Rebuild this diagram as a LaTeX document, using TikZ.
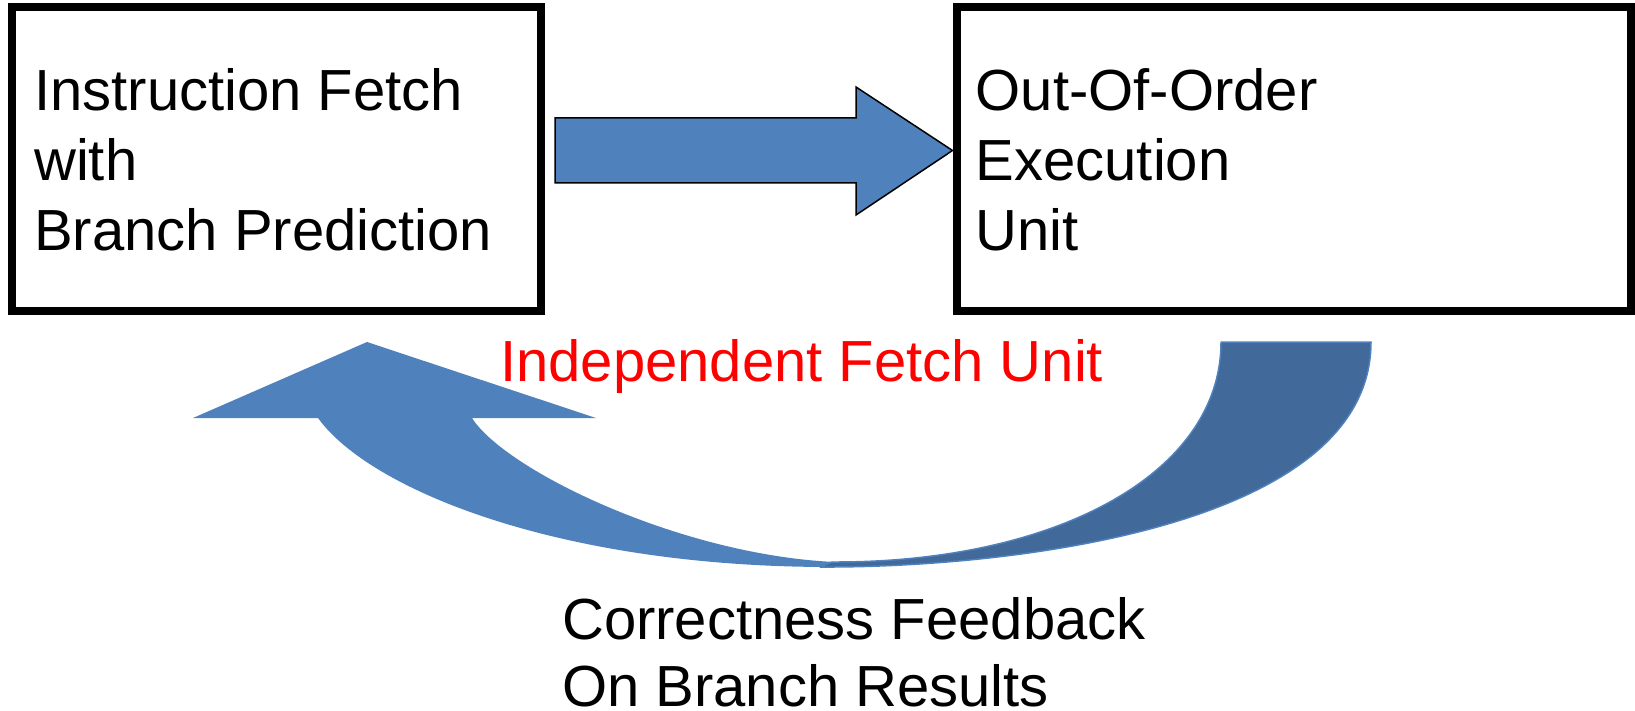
\documentclass[tikz,border=0pt]{standalone}
\usepackage{fontspec}
\setmainfont{Liberation Sans}
\definecolor{arrowblue}{HTML}{4F81BD}
\definecolor{arrowdark}{HTML}{41699A}

\begin{document}
\begin{tikzpicture}[x=1pt,y=-1pt,
  box/.style={draw=black, line width=8pt, inner sep=0pt, minimum height=303.5pt},
  lbl/.style={anchor=base west, inner sep=0pt, font=\fontsize{58}{70}\selectfont},
  blockarrow/.style={fill=arrowblue, draw=black, line width=1.5pt, line join=miter},
]
\useasboundingbox (0,0) rectangle (1635,711);

% the two pipeline stages
\node[box, minimum width=529pt]   (fetch) at (276.5,159.25) {};
\node[box, minimum width=674.5pt] (ooo)   at (1293.75,159.25) {};

\node[lbl] (fetch1) at (34,111) {Instruction Fetch};
\node[lbl] (fetch2) at (34,181) {with};
\node[lbl] (fetch3) at (34,251) {Branch Prediction};

\node[lbl] (ooo1) at (975.5,111) {Out-Of-Order};
\node[lbl] (ooo2) at (975.5,181) {Execution};
\node[lbl] (ooo3) at (975.5,251) {Unit};

% block arrow: fetch feeds the execution unit
\coordinate (shaft) at (555,150.5);
\draw[blockarrow] (555,118) -- (856,118) -- (856,87) -- (ooo.west |- shaft)
  -- (856,215) -- (856,183) -- (555,183) -- cycle;

% curved feedback arrow: front band with head
\fill[arrowblue] (193,418) -- (367,342) -- (596,418) -- (472,418)
  .. controls (505,470) and (680,555) .. (835,562)
  -- (835,567) -- (830,567)
  .. controls (560,567) and (370,490) .. (318,418) -- cycle;

% curved feedback arrow: back band with tail
\filldraw[fill=arrowdark, draw=arrowblue, line width=1.5pt, line join=round]
  (1221,342) -- (1371,342)
  .. controls (1371,530) and (1000,568) .. (820,567)
  -- (832,562)
  .. controls (1053,563) and (1221,475) .. (1221,342) -- cycle;

\node[lbl, text=red] (indep) at (500,381) {Independent Fetch Unit};

\node[lbl] (fb1) at (562,639) {Correctness Feedback};
\node[lbl, text depth=0pt] (fb2) at (562,706) {On Branch Results};
\end{tikzpicture}
\end{document}
